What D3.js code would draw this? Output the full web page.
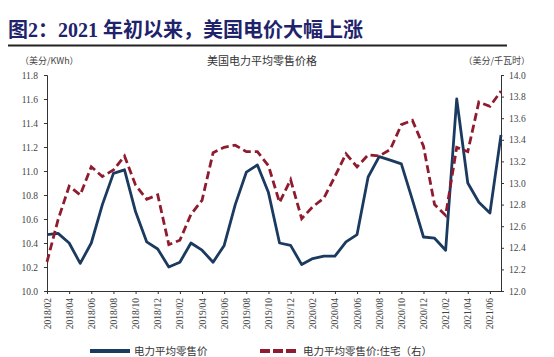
<!DOCTYPE html>
<html><head><meta charset="utf-8">
<script src="https://cdn.jsdelivr.net/npm/d3@7"></script>
<style>body{margin:0;background:#fff}svg{display:block}</style>
</head><body><svg id="c" width="554" height="357"></svg>
<script>
const months = ["2018/02","2018/03","2018/04","2018/05","2018/06","2018/07","2018/08","2018/09","2018/10","2018/11","2018/12",
"2019/01","2019/02","2019/03","2019/04","2019/05","2019/06","2019/07","2019/08","2019/09","2019/10","2019/11","2019/12",
"2020/01","2020/02","2020/03","2020/04","2020/05","2020/06","2020/07","2020/08","2020/09","2020/10","2020/11","2020/12",
"2021/01","2021/02","2021/03","2021/04","2021/05","2021/06","2021/07"];
const avgPrice = [10.47,10.48,10.40,10.23,10.40,10.72,10.98,11.01,10.66,10.41,10.35,
10.20,10.24,10.40,10.34,10.24,10.38,10.72,10.99,11.05,10.82,10.40,10.38,
10.22,10.27,10.29,10.29,10.41,10.47,10.95,11.12,11.09,11.06,10.76,10.45,
10.44,10.34,11.60,10.90,10.74,10.65,11.30];
const resPrice = [12.27,12.66,12.97,12.89,13.15,13.06,13.12,13.25,12.98,12.85,12.89,
12.43,12.47,12.71,12.84,13.28,13.33,13.35,13.29,13.29,13.16,12.82,13.03,
12.67,12.78,12.86,13.06,13.27,13.15,13.26,13.25,13.31,13.54,13.58,13.34,
12.80,12.70,13.33,13.29,13.75,13.71,13.85];
const leftTicks = [10.0,10.2,10.4,10.6,10.8,11.0,11.2,11.4,11.6,11.8];
const rightTicks = [12.0,12.2,12.4,12.6,12.8,13.0,13.2,13.4,13.6,13.8,14.0];
const xTickLabels = months.filter((m,i)=>i%2===0 && i<41);
const title = "图2：2021 年初以来，美国电价大幅上涨";
const chartTitle = "美国电力平均零售价格";
const leftUnit = "（美分/KWh）";
const rightUnit = "（美分/千瓦时）";
const seriesNames = ["电力平均零售价","电力平均零售价:住宅（右）"];

const svg = d3.select("#c");
const L=47, R=501, T=75, B=291;
const x = d3.scalePoint().domain(months).range([L,R]);
const yL = d3.scaleLinear().domain([10.0,11.8]).range([B,T]);
const yR = d3.scaleLinear().domain([12.0,14.0]).range([B,T]);
const serif = "'Liberation Serif','DejaVu Serif','Noto Sans CJK SC',serif";
const cjk = "'Noto Sans CJK SC',sans-serif";

svg.append("text").attr("x",8).attr("y",37).text(title)
  .attr("font-family","'Liberation Serif','Noto Sans CJK SC',serif").attr("font-weight","bold")
  .attr("font-size",20).attr("fill","#1e236b");
svg.append("line").attr("x1",8).attr("x2",507).attr("y1",45.5).attr("y2",45.5)
  .attr("stroke","#222").attr("stroke-width",2);

svg.append("text").attr("x",20).attr("y",64).text(leftUnit)
  .attr("font-family",cjk).attr("font-size",9).attr("fill","#444");
svg.append("text").attr("x",262).attr("y",65).attr("text-anchor","middle").text(chartTitle)
  .attr("font-family",cjk).attr("font-size",11).attr("fill","#333");
svg.append("text").attr("x",530).attr("y",64).attr("text-anchor","end").text(rightUnit)
  .attr("font-family",cjk).attr("font-size",9).attr("fill","#444");

const axL = svg.append("g").attr("transform",`translate(${L},0)`)
  .call(d3.axisLeft(yL).tickValues(leftTicks).tickFormat(d3.format(".1f")).tickSize(3));
const axR = svg.append("g").attr("transform",`translate(${R},0)`)
  .call(d3.axisRight(yR).tickValues(rightTicks).tickFormat(d3.format(".1f")).tickSize(3));
const axB = svg.append("g").attr("transform",`translate(0,${B})`)
  .call(d3.axisBottom(x).tickValues(xTickLabels).tickSizeInner(3).tickSizeOuter(0));
[axL,axR,axB].forEach(a=>{
  a.selectAll("path,line").attr("stroke","#333");
  a.selectAll("text").attr("font-family",serif).attr("font-size",9.5).attr("fill","#444");
});
axL.selectAll("text").attr("x",-9);
axR.selectAll("text").attr("x",8);
axB.selectAll("text").attr("transform","rotate(-90)").attr("text-anchor","end")
  .attr("x",-7).attr("y",0).attr("dy","0.32em").attr("font-size",9.5);

const lineL = d3.line().x((d,i)=>x(months[i])).y(d=>yL(d));
const lineR = d3.line().x((d,i)=>x(months[i])).y(d=>yR(d));
svg.append("path").datum(avgPrice).attr("d",lineL).attr("fill","none")
  .attr("stroke","#1b3a60").attr("stroke-width",2.8).attr("stroke-linejoin","round");
svg.append("path").datum(resPrice).attr("d",lineR).attr("fill","none")
  .attr("stroke","#8e1b2e").attr("stroke-width",2.8).attr("stroke-dasharray","8,4");

const lg = svg.append("g");
lg.append("line").attr("x1",90).attr("x2",130).attr("y1",351).attr("y2",351)
  .attr("stroke","#1b3a60").attr("stroke-width",4);
lg.append("text").attr("x",134).attr("y",354.5).text(seriesNames[0])
  .attr("font-family",cjk).attr("font-size",10.5).attr("fill","#333");
lg.append("line").attr("x1",260).attr("x2",296).attr("y1",351).attr("y2",351)
  .attr("stroke","#8e1b2e").attr("stroke-width",4).attr("stroke-dasharray","10,3");
lg.append("text").attr("x",303).attr("y",354.5).text(seriesNames[1])
  .attr("font-family",cjk).attr("font-size",10.5).attr("fill","#333");
</script></body></html>
